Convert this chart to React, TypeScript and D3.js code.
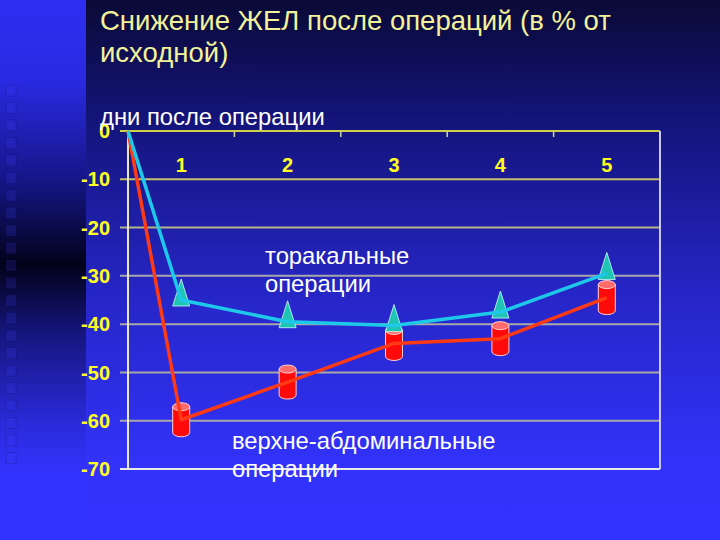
import React from "react";
import * as d3 from "d3";

const categories = ["1", "2", "3", "4", "5"];
const thoracic = [-35, -39.5, -40.3, -37.5, -29.5];
const abdominal = [-59.8, -52, -44, -43, -34.5];
const yTicks = [0, -10, -20, -30, -40, -50, -60, -70];
const title1 = "Снижение ЖЕЛ после операций (в % от";
const title2 = "исходной)";
const xTitle = "дни после операции";
const labelThoracic = ["торакальные", "операции"];
const labelAbdominal = ["верхне-абдоминальные", "операции"];

const W = 720;
const H = 540;
const FONT = "'Liberation Sans', Arial, sans-serif";

export default function App() {
  const left = 128, right = 660, top = 131, bottom = 469;
  const x = d3.scaleBand<string>().domain(categories).range([left, right]);
  const y = d3.scaleLinear().domain([-70, 0]).range([bottom, top]);
  const cx = (c: string) => (x(c) as number) + x.bandwidth() / 2;

  const ptsT: [number, number][] = [[left, y(0)], ...categories.map((c, i) => [cx(c), y(thoracic[i])] as [number, number])];
  const ptsA: [number, number][] = [[left, y(0)], ...categories.map((c, i) => [cx(c), y(abdominal[i])] as [number, number])];
  const line = d3.line();

  const gridColor = d3.scaleLinear<string>().domain([0, -30]).range(["#cfcf48", "#a8a8a8"]).clamp(true);

  const squares = d3.range(85, 455, 17.5);

  return (
    <svg width={W} height={H} style={{ position: "fixed", left: 0, top: 0 }}>
      <defs>
        <linearGradient id="bgMain" x1="0" y1="0" x2="0" y2="1">
          <stop offset="0" stopColor="#0a0a36" />
          <stop offset="0.22" stopColor="#14147a" />
          <stop offset="0.55" stopColor="#2626c8" />
          <stop offset="0.85" stopColor="#3232f8" />
          <stop offset="1" stopColor="#3333ff" />
        </linearGradient>
        <linearGradient id="bgLeft" x1="0" y1="0" x2="0" y2="1">
          <stop offset="0" stopColor="#2e2ef2" />
          <stop offset="0.15" stopColor="#2a2ae2" />
          <stop offset="0.33" stopColor="#16168a" />
          <stop offset="0.49" stopColor="#02021a" />
          <stop offset="0.62" stopColor="#161680" />
          <stop offset="0.78" stopColor="#2a2ad8" />
          <stop offset="0.88" stopColor="#3333ff" />
          <stop offset="1" stopColor="#3333ff" />
        </linearGradient>
      </defs>
      <rect x={0} y={0} width={W} height={H} fill="url(#bgMain)" />
      <rect x={0} y={0} width={86} height={H} fill="url(#bgLeft)" />
      {squares.map((sy, i) => (
        <rect key={i} x={6} y={sy} width={10} height={11} fill="#4040ff" fillOpacity={0.18} stroke="#000040" strokeOpacity={0.18} strokeWidth={1} />
      ))}

      {/* title */}
      <text x={100} y={30} fill="#f2f29a" fontFamily={FONT} fontSize={27.5}>{title1}</text>
      <text x={100} y={62} fill="#f2f29a" fontFamily={FONT} fontSize={27.5}>{title2}</text>

      {/* grid lines */}
      {yTicks.map((t) => (
        <line key={t} x1={120} x2={right} y1={y(t)} y2={y(t)} stroke={t === -70 ? "#e8e8e8" : gridColor(t)} strokeWidth={2} />
      ))}
      {/* top ticks at band boundaries */}
      {categories.slice(1).map((c) => (
        <line key={c} x1={x(c) as number} x2={x(c) as number} y1={top} y2={top + 6} stroke="#d0d0a0" strokeWidth={1.5} />
      ))}
      {/* axes */}
      <line x1={left} x2={left} y1={top} y2={bottom} stroke="#e8e8c8" strokeWidth={2} />
      <line x1={right} x2={right} y1={top} y2={bottom} stroke="#c8c8ff" strokeWidth={2} />

      {/* y tick labels */}
      {yTicks.map((t) => (
        <text key={t} x={110} y={y(t)} dy="0.36em" textAnchor="end" fill="#ffff22" fontFamily={FONT} fontWeight="bold" fontSize={20}>{t}</text>
      ))}
      {/* category labels */}
      {categories.map((c) => (
        <text key={c} x={cx(c)} y={172} textAnchor="middle" fill="#ffff22" fontFamily={FONT} fontWeight="bold" fontSize={20}>{c}</text>
      ))}

      <text x={100} y={125} fill="#ffffff" fontFamily={FONT} fontSize={23.8}>{xTitle}</text>

      {/* markers: cylinders */}
      {categories.map((c, i) => {
        const px = cx(c), py = y(abdominal[i]);
        const t0 = py - 13, b0 = py + 13, rx = 8.5, ry = 4;
        return (
          <g key={"cyl" + c}>
            <path d={`M${px - rx},${t0} L${px - rx},${b0} A${rx},${ry} 0 0 0 ${px + rx},${b0} L${px + rx},${t0} Z`} fill="#ff0a0a" stroke="#ffd0d0" strokeWidth={1} />
            <ellipse cx={px} cy={t0} rx={rx} ry={ry} fill="#ff6a6a" stroke="#ffd0d0" strokeWidth={1} />
          </g>
        );
      })}
      {/* markers: triangles */}
      {categories.map((c, i) => {
        const px = cx(c), py = y(thoracic[i]);
        return (
          <path key={"tri" + c} d={`M${px},${py - 21} L${px + 8.5},${py + 6} L${px - 8.5},${py + 6} Z`} fill="#1fc4b4" stroke="#d0fff8" strokeWidth={0.8} />
        );
      })}

      {/* lines */}
      <path d={line(ptsA) as string} fill="none" stroke="#ff3a14" strokeWidth={3.5} strokeLinejoin="round" />
      <path d={line(ptsT) as string} fill="none" stroke="#1ec8e8" strokeWidth={3.5} strokeLinejoin="round" />

      {/* series labels */}
      {labelThoracic.map((s, i) => (
        <text key={"lt" + i} x={265} y={264 + i * 28} fill="#ffffff" fontFamily={FONT} fontSize={23.8}>{s}</text>
      ))}
      {labelAbdominal.map((s, i) => (
        <text key={"la" + i} x={232} y={449 + i * 28} fill="#ffffff" fontFamily={FONT} fontSize={23.8}>{s}</text>
      ))}
    </svg>
  );
}
